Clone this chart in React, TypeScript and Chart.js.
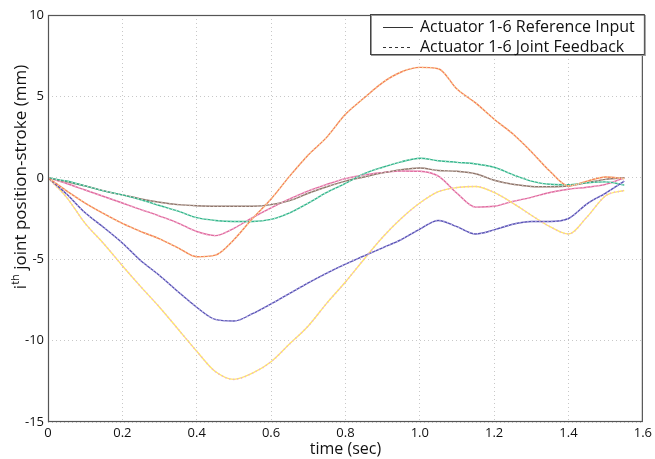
import React, { useEffect, useRef } from "react";
import { Chart, registerables } from "chart.js";

Chart.register(...registerables);

const times = [0, 0.05, 0.1, 0.15, 0.2, 0.25, 0.3, 0.35, 0.4, 0.45, 0.5, 0.55, 0.6, 0.65, 0.7, 0.75, 0.8, 0.85, 0.9, 0.95, 1.0, 1.05, 1.1, 1.15, 1.2, 1.25, 1.3, 1.35, 1.4, 1.45, 1.5, 1.55];

const actuatorOrange = [0, -0.8, -1.55, -2.2, -2.8, -3.3, -3.75, -4.3, -4.85, -4.75, -3.8, -2.5, -1.3, 0.1, 1.4, 2.5, 3.9, 4.9, 5.85, 6.5, 6.78, 6.7, 5.45, 4.6, 3.6, 2.7, 1.6, 0.4, -0.5, -0.2, 0.05, -0.05];
const actuatorBlue = [0, -1.0, -2.15, -3.05, -4.0, -5.1, -6.0, -7.0, -7.95, -8.7, -8.8, -8.35, -7.75, -7.1, -6.45, -5.85, -5.3, -4.8, -4.3, -3.8, -3.15, -2.62, -3.0, -3.45, -3.2, -2.85, -2.68, -2.68, -2.5, -1.6, -0.94, -0.2];
const actuatorYellow = [0, -1.2, -2.8, -4.05, -5.4, -6.7, -7.95, -9.3, -10.65, -11.9, -12.38, -12.0, -11.3, -10.2, -9.1, -7.7, -6.4, -5.0, -3.65, -2.5, -1.55, -0.85, -0.6, -0.53, -0.9, -1.55, -2.3, -3.0, -3.45, -2.4, -1.1, -0.78];
const actuatorGreen = [0, -0.2, -0.5, -0.8, -1.05, -1.35, -1.7, -2.05, -2.45, -2.62, -2.68, -2.68, -2.55, -2.15, -1.55, -0.9, -0.35, 0.25, 0.65, 0.98, 1.2, 1.05, 0.95, 0.85, 0.65, 0.2, -0.2, -0.4, -0.43, -0.3, -0.25, -0.45];
const actuatorBrown = [0, -0.25, -0.5, -0.8, -1.05, -1.3, -1.5, -1.65, -1.72, -1.75, -1.75, -1.75, -1.65, -1.4, -0.95, -0.55, -0.2, 0.05, 0.3, 0.5, 0.6, 0.45, 0.4, 0.25, -0.15, -0.4, -0.53, -0.55, -0.5, -0.3, -0.1, 0];
const actuatorPink = [0, -0.35, -0.75, -1.15, -1.55, -1.95, -2.35, -2.78, -3.3, -3.55, -3.1, -2.45, -1.85, -1.3, -0.8, -0.4, -0.05, 0.18, 0.32, 0.42, 0.4, 0.1, -0.95, -1.8, -1.75, -1.45, -1.2, -0.9, -0.7, -0.58, -0.4, 0];

const referenceSeries = [actuatorOrange, actuatorBlue, actuatorYellow, actuatorGreen, actuatorBrown, actuatorPink];
const feedbackSeries = [actuatorOrange, actuatorBlue, actuatorYellow, actuatorGreen, actuatorBrown, actuatorPink];
const referenceColors = ["#f4825a", "#5a56b4", "#ffe866", "#35b58c", "#8e766c", "#e06ca0"];
const feedbackColors = ["#f8dc9a", "#c0b4ee", "#eab0dc", "#b4e8d4", "#d0bcb4", "#f4b8d4"];

const legendLabels = ["Actuator 1-6 Reference Input", "Actuator 1-6 Joint Feedback"];
const xTitle = "time (sec)";
const yTitleMain = "i";
const yTitleSup = "th";
const yTitleRest = " joint position-stroke (mm)";

const FONT = "'Open Sans', 'DejaVu Sans', sans-serif";

const framePlugin = {
  id: "frame",
  afterDraw(chart: any) {
    const { ctx, chartArea } = chart;
    const { left, right, top, bottom } = chartArea;
    ctx.save();
    ctx.strokeStyle = "#555";
    ctx.lineWidth = 1.2;
    ctx.strokeRect(left + 0.5, top + 0.5, right - left - 1, bottom - top - 1);

    const bx = 370, by = 14, bw = right - 368, bh = 41;
    ctx.fillStyle = "#fff";
    ctx.fillRect(bx, by, bw, bh);
    ctx.strokeStyle = "#999";
    ctx.lineWidth = 1;
    ctx.strokeRect(bx + 1.5, by + 1.5, bw - 1, bh - 1);
    ctx.strokeStyle = "#444";
    ctx.strokeRect(bx + 0.5, by + 0.5, bw - 1, bh - 1);

    ctx.font = "16px " + FONT;
    ctx.fillStyle = "#111";
    ctx.textBaseline = "middle";
    ctx.textAlign = "left";
    const rows = [27, 47];
    legendLabels.forEach((lab, i) => {
      ctx.strokeStyle = "#333";
      ctx.lineWidth = 1;
      ctx.setLineDash(i === 0 ? [] : [3, 3]);
      ctx.beginPath();
      ctx.moveTo(383, rows[i] + 0.5);
      ctx.lineTo(413, rows[i] + 0.5);
      ctx.stroke();
      ctx.setLineDash([]);
      ctx.fillText(lab, 420, rows[i]);
    });

    ctx.save();
    ctx.translate(21, 177);
    ctx.rotate(-Math.PI / 2);
    ctx.fillStyle = "#111";
    ctx.textBaseline = "middle";
    const mainFont = "17px " + FONT;
    const supFont = "11px " + FONT;
    ctx.font = mainFont;
    const w1 = ctx.measureText(yTitleMain).width;
    const w3 = ctx.measureText(yTitleRest).width;
    ctx.font = supFont;
    const w2 = ctx.measureText(yTitleSup).width;
    let x = -(w1 + w2 + w3) / 2;
    ctx.font = mainFont;
    ctx.fillText(yTitleMain, x, 0);
    x += w1;
    ctx.font = supFont;
    ctx.fillText(yTitleSup, x, -5);
    x += w2;
    ctx.font = mainFont;
    ctx.fillText(yTitleRest, x, 0);
    ctx.restore();

    ctx.restore();
  },
};

export default function App() {
  const ref = useRef<HTMLCanvasElement>(null);
  useEffect(() => {
    if (!ref.current) return;
    const datasets: any[] = [];
    // feedback first so it is drawn on top of the reference lines
    feedbackSeries.forEach((vals, i) => {
      datasets.push({
        label: "fb" + i,
        data: vals.map((v, k) => ({ x: times[k], y: v })),
        borderColor: feedbackColors[i],
        borderWidth: 1.6,
        borderDash: [1.2, 2.8],
        pointRadius: 0,
        fill: false,
        cubicInterpolationMode: "monotone",
      });
    });
    referenceSeries.forEach((vals, i) => {
      datasets.push({
        label: "ref" + i,
        data: vals.map((v, k) => ({ x: times[k], y: v })),
        borderColor: referenceColors[i],
        borderWidth: 1.4,
        pointRadius: 0,
        fill: false,
        cubicInterpolationMode: "monotone",
      });
    });
    const chart = new Chart(ref.current, {
      type: "line",
      data: { datasets },
      plugins: [framePlugin],
      options: {
        animation: false,
        responsive: false,
        layout: { padding: { left: 0, right: 12, top: 15, bottom: 0 } },
        plugins: { legend: { display: false }, tooltip: { enabled: false } },
        scales: {
          x: {
            type: "linear",
            min: 0,
            max: 1.6,
            ticks: { stepSize: 0.2, color: "#111", font: { family: FONT, size: 13 }, padding: 3, maxRotation: 0 },
            grid: { color: "#c8c8c8", tickLength: 0 },
            border: { display: false, dash: [1, 3] } as any,
            title: { display: true, text: xTitle, color: "#111", font: { family: FONT, size: 16 }, padding: { top: 0, bottom: 0 } },
            afterFit(scale: any) { scale.height = 37; },
          },
          y: {
            min: -15,
            max: 10,
            ticks: { stepSize: 5, color: "#111", font: { family: FONT, size: 13 }, padding: 4 },
            grid: { color: "#c8c8c8", tickLength: 0 },
            border: { display: false, dash: [1, 3] } as any,
            afterFit(scale: any) { scale.width = 48; },
          },
        },
      },
    });
    return () => chart.destroy();
  }, []);
  return (
    <div style={{ position: "fixed", left: 0, top: 0, width: 655, height: 459, background: "#fff" }}>
      <canvas ref={ref} width={655} height={459} style={{ width: 655, height: 459, display: "block" }} />
    </div>
  );
}
